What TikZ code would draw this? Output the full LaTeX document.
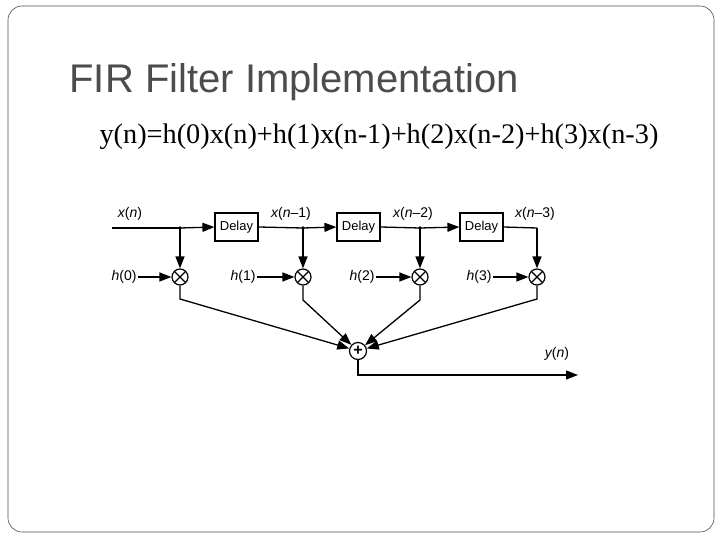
\documentclass[tikz,border=0pt]{standalone}
\usepackage{fontspec}
\setmainfont{Liberation Serif}
\setsansfont{Liberation Sans}
\usetikzlibrary{arrows.meta}
\begin{document}
\begin{tikzpicture}[x=1pt,y=-1pt,
  sig/.style={line width=1.3pt,-{Triangle[length=12pt,width=9pt]}},
  ln/.style={line width=1.3pt},
  dbox/.style={draw,line width=1.2pt,minimum width=43pt,minimum height=28pt,inner sep=0pt,font=\sffamily\fontsize{13}{13}\selectfont},
  mul/.style={draw,circle,line width=1.2pt,minimum size=16pt,inner sep=0pt,path picture={\draw[line width=1.2pt] (path picture bounding box.north west)--(path picture bounding box.south east) (path picture bounding box.north east)--(path picture bounding box.south west);}},
  sum/.style={draw,circle,line width=1.2pt,minimum size=17pt,inner sep=0pt,font=\sffamily\bfseries\fontsize{16}{16}\selectfont},
  lab/.style={font=\sffamily\fontsize{14}{14}\selectfont,inner sep=1pt}]
\useasboundingbox (0,0) rectangle (720,540);
\draw[rounded corners=14pt,line width=0.6pt,draw=black!70] (8,6) rectangle (714,532);
\node[anchor=west,font=\sffamily\fontsize{40}{40}\selectfont,text=black!70] (title) at (66,82) {FIR Filter Implementation};
\node[anchor=west,font=\fontsize{28.3}{28}\selectfont] (eq) at (96,137) {y(n)=h(0)x(n)+h(1)x(n-1)+h(2)x(n-2)+h(3)x(n-3)};
\coordinate (in) at (112,228);
\coordinate (j1) at (180,228);
\coordinate (j2) at (303,228);
\coordinate (j3) at (420,228);
\coordinate (c3) at (537,228);
\node[dbox] (d1) at (236.5,227) {Delay};
\node[dbox] (d2) at (358.5,227) {Delay};
\node[dbox] (d3) at (481.5,227) {Delay};
\node[mul] (m0) at (180,277) {};
\node[mul] (m1) at (303,277) {};
\node[mul] (m2) at (420,277) {};
\node[mul] (m3) at (537,277) {};
\node[sum] (s) at (358,351) {+};
\node[lab] (xn) at (130,214) {\itshape x\upshape(\itshape n\upshape)};
\node[lab] (xn1) at (291,214) {\itshape x\upshape(\itshape n\upshape–1)};
\node[lab] (xn2) at (413,214) {\itshape x\upshape(\itshape n\upshape–2)};
\node[lab] (xn3) at (535,214) {\itshape x\upshape(\itshape n\upshape–3)};
\node[lab] (h0) at (124,277) {\itshape h\upshape(0)};
\node[lab] (h1) at (243,277) {\itshape h\upshape(1)};
\node[lab] (h2) at (362,277) {\itshape h\upshape(2)};
\node[lab] (h3) at (479,277) {\itshape h\upshape(3)};
\node[lab] (yn) at (557,354) {\itshape y\upshape(\itshape n\upshape)};
\coordinate (o0) at (180,299);
\coordinate (o1) at (303,300);
\coordinate (o2) at (420,300);
\coordinate (o3) at (537,299);
\coordinate (sb) at (358,375);
\coordinate (out) at (578,375);
\draw[ln] (in) -- (j1);
\draw[sig] (j1) -- (d1.west);
\draw[ln] (d1.east) -- (j2);
\draw[sig] (j2) -- (d2.west);
\draw[ln] (d2.east) -- (j3);
\draw[sig] (j3) -- (d3.west);
\draw[ln] (d3.east) -- (c3);
\fill (j1) circle (1.8pt) (j2) circle (1.8pt) (j3) circle (1.8pt);
\draw[sig] (j1) -- (m0);
\draw[sig] (j2) -- (m1);
\draw[sig] (j3) -- (m2);
\draw[sig] (c3) -- (m3);
\draw[sig] (h0) -- (m0);
\draw[sig] (h1) -- (m1);
\draw[sig] (h2) -- (m2);
\draw[sig] (h3) -- (m3);
\draw[sig] (m0) -- (o0) -- (s);
\draw[sig] (m1) -- (o1) -- (s);
\draw[sig] (m2) -- (o2) -- (s);
\draw[sig] (m3) -- (o3) -- (s);
\draw[sig] (s) -- (sb) -- (out);
\end{tikzpicture}
\end{document}
